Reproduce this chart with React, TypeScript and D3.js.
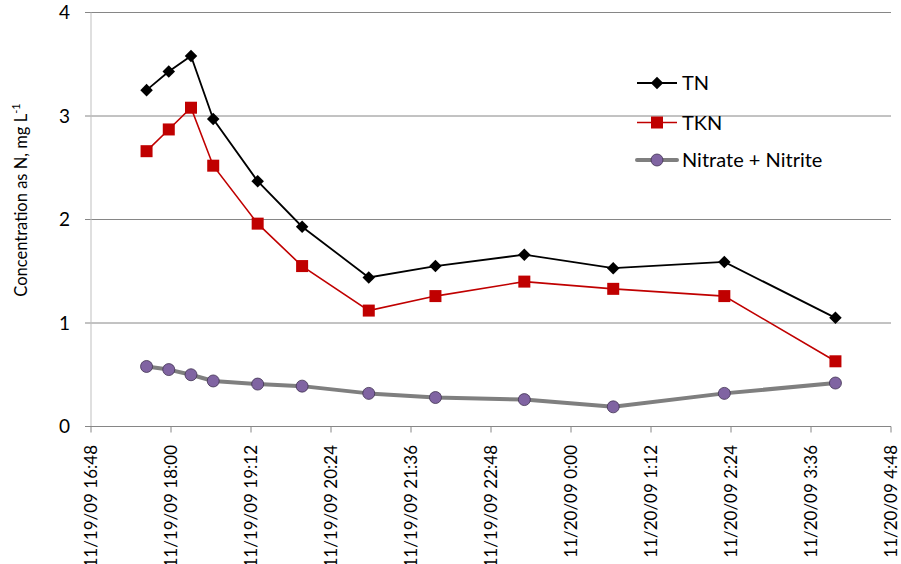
import React from "react";
import * as d3 from "d3";

const sampleTimes: string[] = [
  "2009-11-19T17:38", "2009-11-19T17:58", "2009-11-19T18:18", "2009-11-19T18:38",
  "2009-11-19T19:18", "2009-11-19T19:58", "2009-11-19T20:58", "2009-11-19T21:58",
  "2009-11-19T23:18", "2009-11-20T00:38", "2009-11-20T02:18", "2009-11-20T03:58",
];
const tnValues: number[] = [3.25, 3.43, 3.58, 2.97, 2.37, 1.93, 1.44, 1.55, 1.66, 1.53, 1.59, 1.05];
const tknValues: number[] = [2.66, 2.87, 3.08, 2.52, 1.96, 1.55, 1.12, 1.26, 1.40, 1.33, 1.26, 0.63];
const nitrateValues: number[] = [0.58, 0.55, 0.50, 0.44, 0.41, 0.39, 0.32, 0.28, 0.26, 0.19, 0.32, 0.42];
const yTicks: number[] = [0, 1, 2, 3, 4];
const xDomain: string[] = ["2009-11-19T16:48", "2009-11-20T04:48"];
const seriesNames: string[] = ["TN", "TKN", "Nitrate + Nitrite"];

const W = 901, H = 564;
const left = 91, right = 891, top = 12.5, bottom = 426.5;
const FONT = "Lato, 'Open Sans', Arial, sans-serif";

export default function App() {
  const times = sampleTimes.map((s) => new Date(s));
  const x = d3.scaleTime().domain(xDomain.map((s) => new Date(s))).range([left, right]);
  const y = d3.scaleLinear().domain([0, 4]).range([bottom, top]);
  const xTicks = d3.range(0, 11).map((i) => d3.timeMinute.offset(new Date(xDomain[0]), i * 72));
  const fmt = (d: Date) => {
    const mm = String(d.getMonth() + 1).padStart(2, "0");
    const dd = String(d.getDate()).padStart(2, "0");
    const yy = String(d.getFullYear() % 100).padStart(2, "0");
    return `${mm}/${dd}/${yy} ${d.getHours()}:${String(d.getMinutes()).padStart(2, "0")}`;
  };
  const line = d3.line<[Date, number]>().x((d) => x(d[0])).y((d) => y(d[1]));
  const pts = (vals: number[]) => times.map((t, i) => [t, vals[i]] as [Date, number]);
  const diamond = d3.symbol().type(d3.symbolDiamond2).size(100)()!;

  const legendX0 = 637, legendX1 = 677;
  const legendY = [83, 122.5, 160];

  return (
    <svg width={W} height={H} style={{ position: "absolute", left: 0, top: 0, background: "#fff" }} fontFamily={FONT}>
      {/* gridlines */}
      {yTicks.filter((t) => t > 0).map((t) => (
        <line key={t} x1={left - 6} x2={right} y1={y(t)} y2={y(t)} stroke="#868686" strokeWidth={1} />
      ))}
      {/* y axis */}
      <line x1={left} x2={left} y1={top} y2={bottom} stroke="#BFBFBF" strokeWidth={1} />
      <line x1={left - 6} x2={left} y1={bottom} y2={bottom} stroke="#868686" />
      {/* x axis */}
      <line x1={left} x2={right} y1={bottom} y2={bottom} stroke="#868686" strokeWidth={1} />
      {xTicks.map((t, i) => (
        <line key={i} x1={x(t)} x2={x(t)} y1={bottom} y2={bottom + 6} stroke="#868686" />
      ))}
      {yTicks.map((t) => (
        <text key={t} x={70} y={y(t)} dy="0.35em" textAnchor="end" fontSize={19} fill="#000">{t}</text>
      ))}
      {xTicks.map((t, i) => (
        <text key={i} transform={`translate(${x(t) + 6},${445}) rotate(-90)`} textAnchor="end" fontSize={17} fill="#000">{fmt(t)}</text>
      ))}
      <text transform={`translate(27,${200}) rotate(-90)`} textAnchor="middle" fontSize={16.5} fill="#000">
        Concentration as N, mg L<tspan dy="-7" fontSize={11}>-1</tspan>
      </text>

      {/* Nitrate + Nitrite */}
      <path d={line(pts(nitrateValues))!} fill="none" stroke="#7F7F7F" strokeWidth={4} strokeLinejoin="round" />
      {times.map((t, i) => (
        <circle key={i} cx={x(t)} cy={y(nitrateValues[i])} r={6} fill="#8064A2" stroke="#3F3151" strokeWidth={0.8} />
      ))}
      {/* TKN */}
      <path d={line(pts(tknValues))!} fill="none" stroke="#C00000" strokeWidth={1.6} />
      {times.map((t, i) => (
        <rect key={i} x={x(t) - 6} y={y(tknValues[i]) - 6} width={12} height={12} fill="#C00000" />
      ))}
      {/* TN */}
      <path d={line(pts(tnValues))!} fill="none" stroke="#000" strokeWidth={1.8} />
      {times.map((t, i) => (
        <path key={i} d={diamond} transform={`translate(${x(t)},${y(tnValues[i])})`} fill="#000" />
      ))}

      {/* legend */}
      <line x1={legendX0} x2={legendX1} y1={legendY[0]} y2={legendY[0]} stroke="#000" strokeWidth={1.8} />
      <path d={diamond} transform={`translate(${(legendX0 + legendX1) / 2},${legendY[0]})`} fill="#000" />
      <line x1={legendX0} x2={legendX1} y1={legendY[1]} y2={legendY[1]} stroke="#C00000" strokeWidth={1.6} />
      <rect x={(legendX0 + legendX1) / 2 - 6} y={legendY[1] - 6} width={12} height={12} fill="#C00000" />
      <line x1={legendX0} x2={legendX1} y1={legendY[2]} y2={legendY[2]} stroke="#7F7F7F" strokeWidth={4} strokeLinecap="round" />
      <circle cx={(legendX0 + legendX1) / 2} cy={legendY[2]} r={6} fill="#8064A2" stroke="#3F3151" strokeWidth={0.8} />
      {seriesNames.map((n, i) => (
        <text key={n} x={682} y={legendY[i]} dy="0.36em" fontSize={20} fill="#000">{n}</text>
      ))}
    </svg>
  );
}
